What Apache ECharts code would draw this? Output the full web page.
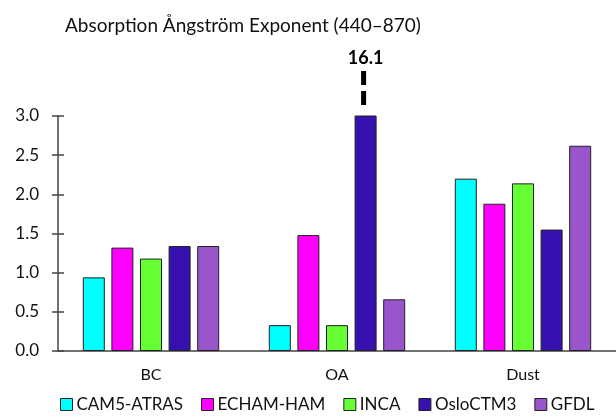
<!DOCTYPE html>
<html><head><meta charset="utf-8">
<script src="https://cdn.jsdelivr.net/npm/echarts@6/dist/echarts.min.js"></script>
<style>html,body{margin:0;padding:0;background:#fff}#c{width:616px;height:418px}</style>
</head><body><div id="c"></div>
<script>
var categories = ['BC', 'OA', 'Dust'];
var seriesNames = ['CAM5-ATRAS', 'ECHAM-HAM', 'INCA', 'OsloCTM3', 'GFDL'];
var cam5 = [0.94, 0.33, 2.20];
var echam = [1.32, 1.48, 1.88];
var inca = [1.18, 0.33, 2.14];
var oslo = [1.34, 16.1, 1.55];
var gfdl = [1.34, 0.66, 2.62];
var colors = ['#00FFFF', '#FF00FF', '#66FF33', '#3711B0', '#9955CC'];
var yTicks = [0, 0.5, 1.0, 1.5, 2.0, 2.5, 3.0];
var titleText = 'Absorption Ångström Exponent (440–870)';
var offLabel = '16.1';

var font = 'Lato';
var chart = echarts.init(document.getElementById('c'), null, {renderer: 'canvas'});
var values = [cam5, echam, inca, oslo, gfdl];
var series = seriesNames.map(function (n, i) {
  return {
    name: n, type: 'bar', data: values[i], clip: true,
    barWidth: 22, barGap: '30%',
    itemStyle: {color: colors[i], borderColor: '#222', borderWidth: 1},
    emphasis: {disabled: true}
  };
});
var yBase = {type: 'value', min: yTicks[0], max: yTicks[yTicks.length - 1], interval: yTicks[1] - yTicks[0],
  splitLine: {show: false}};
chart.setOption({
  animation: false,
  title: {text: titleText, left: 60, top: 11,
    textStyle: {fontFamily: font, fontSize: 19, fontWeight: 'normal', color: '#111'}},
  legend: {bottom: 0, left: 55, itemWidth: 12, itemHeight: 12, itemGap: 18,
    icon: 'rect',
    itemStyle: {borderColor: '#222', borderWidth: 1},
    textStyle: {fontFamily: font, fontSize: 17, color: '#111', padding: [0, 0, 0, -1]},
    data: seriesNames},
  grid: {left: 58, top: 116, width: 561, height: 235, containLabel: false},
  xAxis: {type: 'category', data: categories,
    axisLine: {lineStyle: {color: '#444', width: 1.5}},
    axisTick: {show: false},
    axisLabel: {fontFamily: font, fontSize: 16, color: '#111', margin: 16}},
  yAxis: [
    Object.assign({}, yBase, {
      axisLine: {show: true, lineStyle: {color: '#444', width: 1.5}},
      axisTick: {show: true, length: 6, lineStyle: {color: '#444', width: 1.5}},
      axisLabel: {fontFamily: font, fontSize: 17, color: '#111', margin: 19,
        formatter: function (v) { return v.toFixed(1); }}}),
    Object.assign({}, yBase, {position: 'left',
      axisLine: {show: false},
      axisTick: {show: true, inside: true, length: 6, lineStyle: {color: '#444', width: 1.5}},
      axisLabel: {show: false}})
  ],
  series: series
});
// place the off-scale marker above the clipped OsloCTM3 OA bar
var data = chart.getModel().getSeriesByIndex(3).getData();
var lay = data.getItemLayout(1);
var cx = lay.x + lay.width / 2 - 2;
var topY = chart.convertToPixel({yAxisIndex: 0}, yTicks[yTicks.length - 1]);
chart.setOption({graphic: [
  {type: 'line', shape: {x1: cx, y1: topY - 45, x2: cx, y2: topY - 10},
    style: {stroke: '#000', lineWidth: 5, lineDash: [14, 6]}},
  {type: 'text', x: cx + 2, y: topY - 58,
    style: {text: offLabel, fill: '#000', font: 'bold 18px ' + font, align: 'center', verticalAlign: 'middle'}}
]});
</script></body></html>
